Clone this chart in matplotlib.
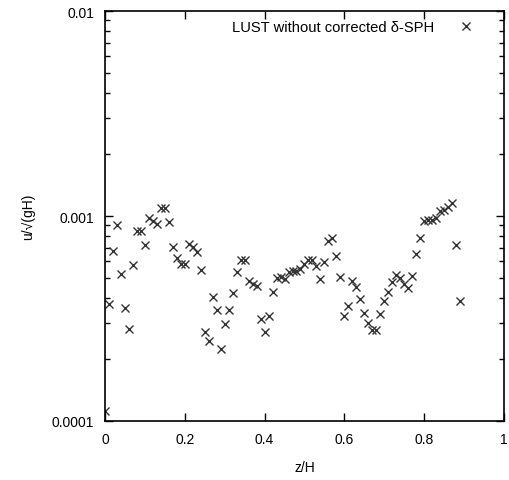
import math
import matplotlib
matplotlib.use("Agg")
import matplotlib.pyplot as plt
from matplotlib.ticker import LogLocator, FuncFormatter, MultipleLocator

plt.rcParams['font.family'] = ['Liberation Sans', 'DejaVu Sans']

# z/H positions
z = [0.00, 0.01, 0.02, 0.03, 0.04, 0.05, 0.06, 0.07, 0.08, 0.09,
     0.10, 0.11, 0.12, 0.13, 0.14, 0.15, 0.16, 0.17, 0.18, 0.19,
     0.20, 0.21, 0.22, 0.23, 0.24, 0.25, 0.26, 0.27, 0.28, 0.29,
     0.30, 0.31, 0.32, 0.33, 0.34, 0.35, 0.36, 0.37, 0.38, 0.39,
     0.40, 0.41, 0.42, 0.43, 0.44, 0.45, 0.46, 0.47, 0.48, 0.49,
     0.50, 0.51, 0.52, 0.53, 0.54, 0.55, 0.56, 0.57, 0.58, 0.59,
     0.60, 0.61, 0.62, 0.63, 0.64, 0.65, 0.66, 0.67, 0.68, 0.69,
     0.70, 0.71, 0.72, 0.73, 0.74, 0.75, 0.76, 0.77, 0.78, 0.79,
     0.80, 0.81, 0.82, 0.83, 0.84, 0.85, 0.86, 0.87, 0.88, 0.89]

# u/sqrt(gH) values
u = [1.12e-4, 3.72e-4, 6.77e-4, 9.04e-4, 5.23e-4, 3.55e-4, 2.80e-4, 5.77e-4, 8.45e-4, 8.45e-4,
     7.22e-4, 9.81e-4, 9.45e-4, 9.17e-4, 1.09e-3, 1.09e-3, 9.35e-4, 7.04e-4, 6.22e-4, 5.81e-4,
     5.81e-4, 7.28e-4, 7.06e-4, 6.65e-4, 5.47e-4, 2.71e-4, 2.46e-4, 4.01e-4, 3.49e-4, 2.25e-4,
     2.96e-4, 3.49e-4, 4.23e-4, 5.33e-4, 6.07e-4, 6.12e-4, 4.80e-4, 4.66e-4, 4.57e-4, 3.14e-4,
     2.73e-4, 3.26e-4, 4.24e-4, 4.98e-4, 5.02e-4, 4.93e-4, 5.31e-4, 5.37e-4, 5.41e-4, 5.51e-4,
     5.83e-4, 6.12e-4, 6.12e-4, 5.72e-4, 4.93e-4, 5.94e-4, 7.52e-4, 7.81e-4, 6.36e-4, 5.06e-4,
     3.26e-4, 3.65e-4, 4.80e-4, 4.49e-4, 3.92e-4, 3.35e-4, 3.00e-4, 2.79e-4, 2.79e-4, 3.33e-4,
     3.86e-4, 4.27e-4, 4.75e-4, 5.15e-4, 4.97e-4, 4.66e-4, 4.47e-4, 5.11e-4, 6.53e-4, 7.81e-4,
     9.45e-4, 9.59e-4, 9.59e-4, 9.81e-4, 1.058e-3, 1.073e-3, 1.103e-3, 1.153e-3, 7.22e-4, 3.85e-4]


def xfmt(v, pos):
    v = round(v, 6)
    if v == 0 or v == 1:
        return f'{int(v)}'
    return f'{v:.1f}'


def yfmt(v, pos):
    return {-2: '0.01', -3: '0.001', -4: '0.0001'}.get(round(math.log10(v)), '')


fig = plt.figure(figsize=(5.10, 4.81), dpi=100)
ax = fig.add_axes([0.206, 0.1227, 0.782, 0.8523])

ax.plot(z, u, linestyle='none', marker='x', markersize=6, markeredgewidth=1.0,
        color='#333333', label='LUST without corrected δ-SPH')

ax.set_yscale('log')
ax.set_xlim(0, 1)
ax.set_ylim(1e-4, 1e-2)

ax.xaxis.set_major_locator(MultipleLocator(0.2))
ax.xaxis.set_major_formatter(FuncFormatter(xfmt))
ax.yaxis.set_major_locator(LogLocator(base=10))
ax.yaxis.set_minor_locator(LogLocator(base=10, subs=range(2, 10)))
ax.yaxis.set_major_formatter(FuncFormatter(yfmt))
ax.yaxis.set_minor_formatter(FuncFormatter(lambda v, p: ''))

ax.tick_params(which='both', direction='in', top=True, right=True, labelsize=10, colors='black')
ax.tick_params(which='major', length=6, width=1, pad=8)
ax.tick_params(which='minor', length=3.5, width=1)
for s in ax.spines.values():
    s.set_linewidth(1.2)

ax.set_xlabel('z/H', fontsize=10, labelpad=10)
ax.set_ylabel('u/√(gH)', fontsize=10, labelpad=12)

ax.legend(loc='upper right', frameon=False, markerfirst=False, fontsize=10.6,
          handlelength=1.5, handletextpad=1.4, borderaxespad=0.2,
          bbox_to_anchor=(0.955, 1.0))

fig.savefig('out.png', dpi=100)
